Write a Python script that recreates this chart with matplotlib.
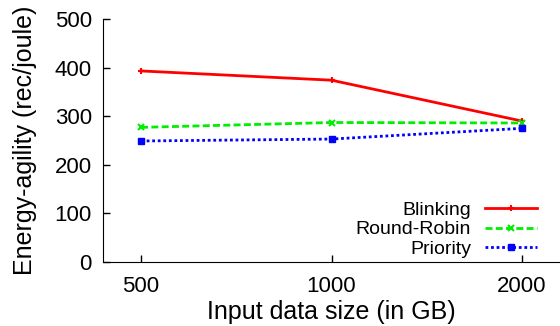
import matplotlib
matplotlib.use("Agg")
import matplotlib.pyplot as plt

plt.rcParams['font.family'] = ['Liberation Sans', 'DejaVu Sans']

sizes = ['500', '1000', '2000']
blinking = [393, 374, 290]
round_robin = [277, 287, 286]
priority = [249, 253, 275]

fig = plt.figure(figsize=(5.6, 3.26), dpi=100)
ax = fig.add_axes([0.184, 0.196, 0.816, 0.746])

x = list(range(len(sizes)))
ax.plot(x, blinking, color='#ff0000', linestyle='-', linewidth=2, marker='+',
        markersize=5, markeredgewidth=1.5, label='Blinking')
ax.plot(x, round_robin, color='#00ee00', linestyle=(0, (2.5, 1.2)), linewidth=2, marker='x',
        markersize=5, markeredgewidth=1.5, label='Round-Robin')
ax.plot(x, priority, color='#0000ff', linestyle=(0, (1, 1)), linewidth=2, marker='s',
        markersize=4.5, label='Priority')

ax.set_xlim(-0.2, 2.2)
ax.set_ylim(0, 500)
ax.set_xticks(x)
ax.set_xticklabels(sizes)
ax.set_yticks([0, 100, 200, 300, 400, 500])
ax.tick_params(direction='in', length=5, labelsize=16, width=1)
ax.tick_params(axis='x', pad=10)
ax.tick_params(axis='y', pad=8)
for s in ['top', 'right']:
    ax.spines[s].set_visible(False)
ax.set_xlabel('Input data size (in GB)', fontsize=18, labelpad=2)
ax.set_ylabel('Energy-agility (rec/joule)', fontsize=18, labelpad=13)

ax.legend(loc='lower right', bbox_to_anchor=(0.95, 0.017), frameon=False,
          markerfirst=False, fontsize=14, handlelength=2.7, handletextpad=0.7,
          labelspacing=0.1, borderpad=0, borderaxespad=0)

fig.savefig('out.png', dpi=100)
